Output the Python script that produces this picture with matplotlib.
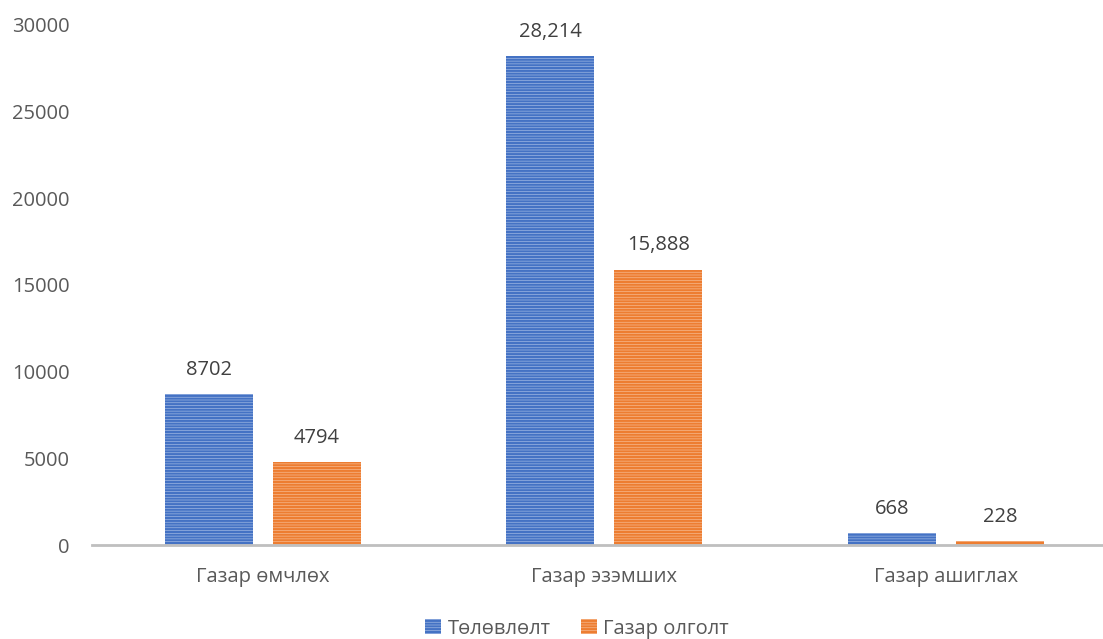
import matplotlib
matplotlib.use("Agg")
import matplotlib.pyplot as plt
import numpy as np

categories = ["Газар өмчлөх", "Газар эзэмших", "Газар ашиглах"]
plan = [8702, 28214, 668]
actual = [4794, 15888, 228]
plan_labels = ["8702", "28,214", "668"]
actual_labels = ["4794", "15,888", "228"]
series_names = ["Төлөвлөлт", "Газар олголт"]

plt.rcParams['font.family'] = ['Open Sans', 'DejaVu Sans']
plt.rcParams['hatch.linewidth'] = 1.6
txt = '#595959'
fs = 14.5

fig = plt.figure(figsize=(11.03, 6.39), dpi=100)
ax = fig.add_axes([0.0834, 0.147, 0.9166, 0.814])

x = np.arange(len(categories))
w = 0.258
off = 0.158
b1 = ax.bar(x - off, plan, w, facecolor='#B4C7EA', edgecolor='#4472C4',
            hatch='------', linewidth=0, label=series_names[0])
b2 = ax.bar(x + off, actual, w, facecolor='#F8C8A6', edgecolor='#ED7D31',
            hatch='------', linewidth=0, label=series_names[1])

for bars, labs in ((b1, plan_labels), (b2, actual_labels)):
    for r, lab in zip(bars, labs):
        ax.annotate(lab, (r.get_x() + r.get_width() / 2, r.get_height()),
                    xytext=(0, 17.5), textcoords='offset points', ha='center',
                    va='center', fontsize=fs, color='#404040', annotation_clip=False)

ax.set_xlim(-0.5, 2.46)
ax.set_ylim(0, 30000)
ax.set_yticks(np.arange(0, 30001, 5000))
ax.set_xticks(x)
ax.set_xticklabels(categories)
for s in ['top', 'right', 'left']:
    ax.spines[s].set_visible(False)
ax.spines['bottom'].set_color('#BFBFBF')
ax.spines['bottom'].set_linewidth(2)
ax.tick_params(axis='both', length=0, labelsize=fs, colors=txt)
ax.tick_params(axis='y', pad=16)
ax.tick_params(axis='x', pad=16)

leg = fig.legend(handles=[b1, b2], loc='lower center', ncol=2, frameon=False,
                 bbox_to_anchor=(0.523, -0.028), fontsize=fs, handlelength=0.8,
                 handleheight=0.8, handletextpad=0.3, columnspacing=1.5)
for t in leg.get_texts():
    t.set_color(txt)

fig.savefig("out.png", dpi=100)
